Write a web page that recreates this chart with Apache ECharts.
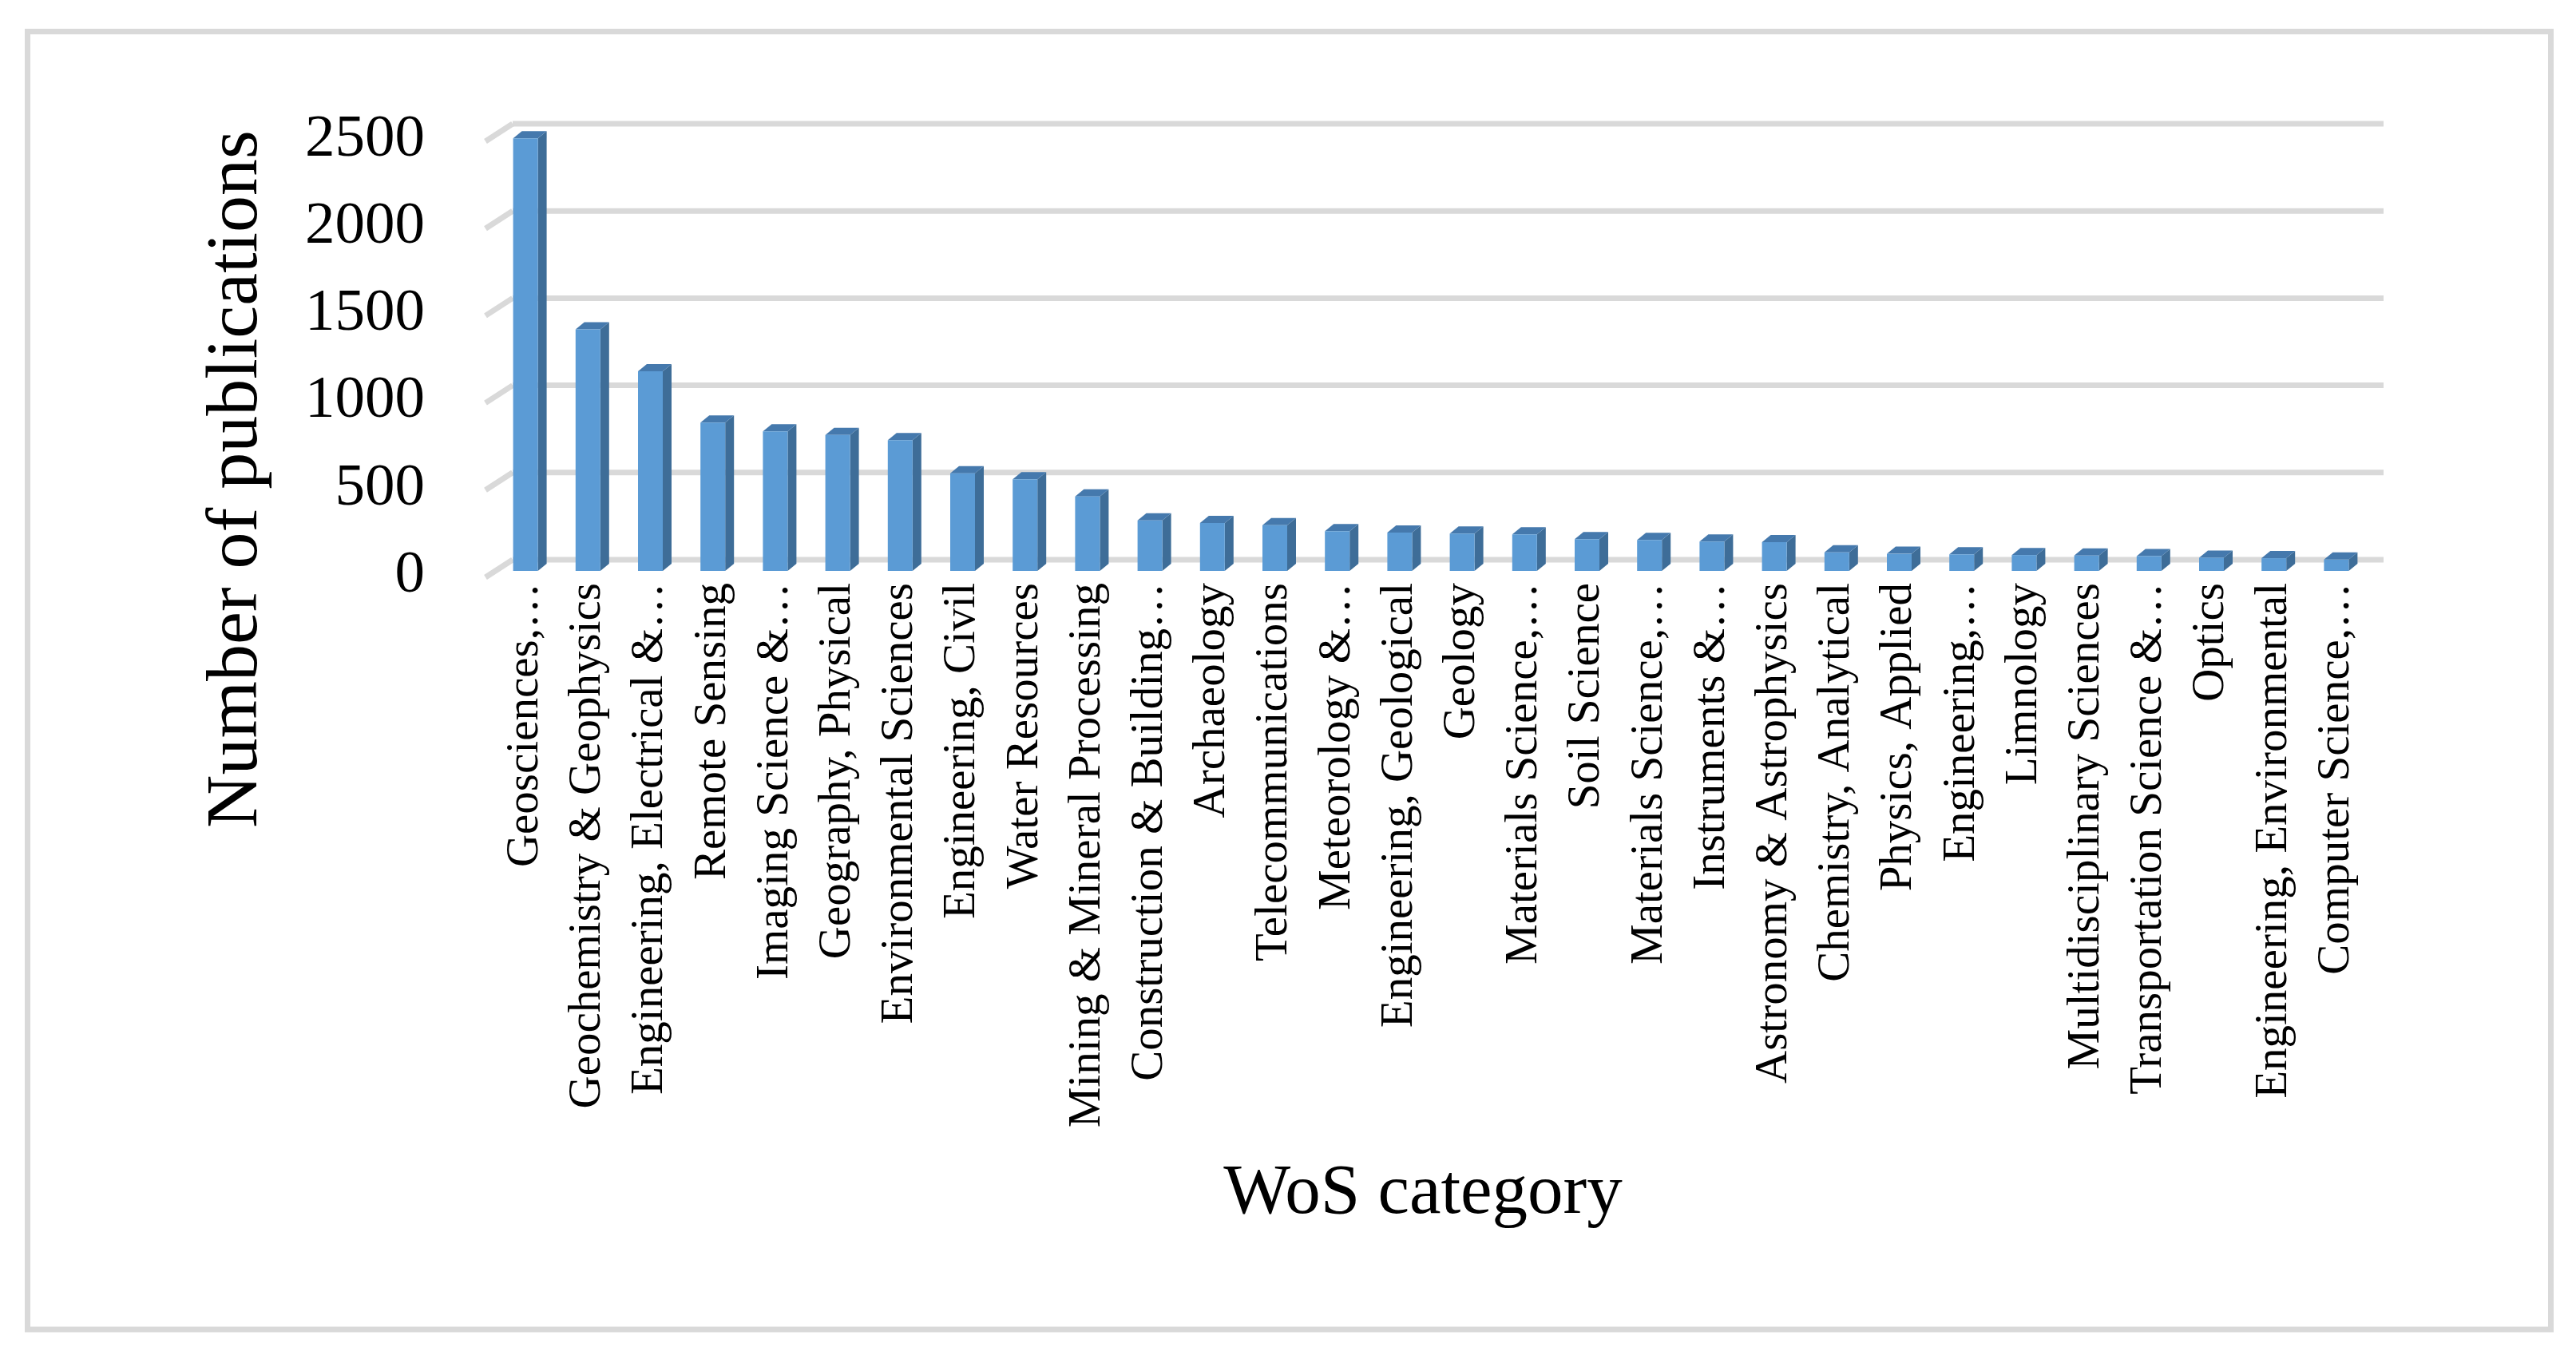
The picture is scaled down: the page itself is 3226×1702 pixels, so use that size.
<!DOCTYPE html>
<html>
<head>
<meta charset="utf-8">
<script src="https://cdn.jsdelivr.net/npm/echarts@6/dist/echarts.min.js"></script>
<style>
  html, body { margin: 0; padding: 0; background: #fff; }
  #chart { width: 3226px; height: 1702px; }
</style>
</head>
<body>
<div id="chart"></div>
<script>
// WoS categories (labels as shown, truncated ones keep the ellipsis)
const categories = [
  'Geosciences,…', 'Geochemistry & Geophysics', 'Engineering, Electrical &…',
  'Remote Sensing', 'Imaging Science &…', 'Geography, Physical',
  'Environmental Sciences', 'Engineering, Civil', 'Water Resources',
  'Mining & Mineral Processing', 'Construction & Building…', 'Archaeology',
  'Telecommunications', 'Meteorology &…', 'Engineering, Geological',
  'Geology', 'Materials Science,…', 'Soil Science', 'Materials Science,…',
  'Instruments &…', 'Astronomy & Astrophysics', 'Chemistry, Analytical',
  'Physics, Applied', 'Engineering,…', 'Limnology',
  'Multidisciplinary Sciences', 'Transportation Science &…', 'Optics',
  'Engineering, Environmental', 'Computer Science,…'
];
// number of publications
const publications = [
  2480, 1385, 1145, 850, 800, 780, 750, 560, 525, 427,
  290, 275, 262, 228, 220, 214, 209, 182, 177, 168,
  165, 106, 98, 95, 91, 88, 85, 76, 73, 65
];
const yTicks = [0, 500, 1000, 1500, 2000, 2500];

const FONT = '"Liberation Serif", "Times New Roman", serif';
const GRID_COLOR = '#d9d9d9';

// 3D look: the value axis sits on the front edge of the floor,
// bars stand a bit behind it and the gridlines are on the back wall
const BAR_W = 31, DEPTH_X = 11, DEPTH_Y = -9, BAR_Y = -6;
const WALL_X = 23, WALL_Y = -20, FLOOR_X = -11, FLOOR_Y = 2;

const chart = echarts.init(document.getElementById('chart'));

function renderGridLine(params, api) {
  const cs = params.coordSys;
  const y = api.coord([0, api.value(1)])[1];
  const style = { stroke: GRID_COLOR, lineWidth: 7, fill: null };
  return {
    type: 'group',
    children: [
      { type: 'line', shape: { x1: cs.x + WALL_X, y1: y + WALL_Y, x2: cs.x + cs.width + 20, y2: y + WALL_Y }, style: style },
      { type: 'line', shape: { x1: cs.x + FLOOR_X, y1: y + FLOOR_Y, x2: cs.x + WALL_X, y2: y + WALL_Y }, style: style }
    ]
  };
}

function renderBar(params, api) {
  const base = api.coord([api.value(0), 0]);
  const top = api.coord([api.value(0), api.value(1)]);
  const b = base[1] + BAR_Y, t = top[1] + BAR_Y;
  const l = base[0] - BAR_W / 2, r = base[0] + BAR_W / 2;
  return {
    type: 'group',
    children: [
      {
        type: 'polygon',
        shape: { points: [[r, b], [r + DEPTH_X, b + DEPTH_Y], [r + DEPTH_X, t + DEPTH_Y], [r, t]] },
        style: { fill: '#3e6d98' }
      },
      {
        type: 'polygon',
        shape: { points: [[l, t], [l + DEPTH_X, t + DEPTH_Y], [r + DEPTH_X, t + DEPTH_Y], [r, t]] },
        style: { fill: '#4579ad' }
      },
      {
        type: 'rect',
        shape: { x: l, y: t, width: BAR_W, height: b - t },
        style: { fill: '#5b9bd5' }
      }
    ]
  };
}

const option = {
  backgroundColor: '#fff',
  animation: false,
  grid: {
    left: 619,
    right: 261,
    top: 175,
    bottom: 981
  },
  xAxis: {
    type: 'category',
    data: categories,
    axisLine: { show: false },
    axisTick: { show: false },
    splitLine: { show: false },
    axisLabel: {
      interval: 0,
      rotate: 90,
      margin: 9,
      fontSize: 57,
      fontFamily: FONT,
      color: '#000'
    }
  },
  yAxis: {
    type: 'value',
    min: 0,
    max: 2500,
    interval: 500,
    axisLine: { show: false },
    axisTick: { show: false },
    splitLine: { show: false },
    axisLabel: {
      margin: 87,
      fontSize: 75,
      fontFamily: FONT,
      color: '#000',
      formatter: v => String(v)
    }
  },
  graphic: [
    {
      type: 'rect',
      shape: { x: 34.5, y: 39.5, width: 3160, height: 1625.5 },
      style: { fill: null, stroke: GRID_COLOR, lineWidth: 7 },
      silent: true
    },
    {
      type: 'text',
      x: 297,
      y: 600,
      rotation: Math.PI / 2,
      style: {
        text: 'Number of publications',
        font: '92px ' + FONT,
        fill: '#000',
        align: 'center',
        verticalAlign: 'middle'
      }
    },
    {
      type: 'text',
      x: 1782,
      y: 1496,
      style: {
        text: 'WoS category',
        font: '89px ' + FONT,
        fill: '#000',
        align: 'center',
        verticalAlign: 'middle'
      }
    }
  ],
  series: [
    {
      type: 'custom',
      z: 1,
      data: yTicks.map(v => [0, v]),
      encode: { x: 0, y: 1 },
      renderItem: renderGridLine,
      silent: true
    },
    {
      type: 'custom',
      z: 2,
      data: publications.map((v, i) => [i, v]),
      encode: { x: 0, y: 1 },
      renderItem: renderBar
    }
  ]
};

chart.setOption(option);
</script>
</body>
</html>
